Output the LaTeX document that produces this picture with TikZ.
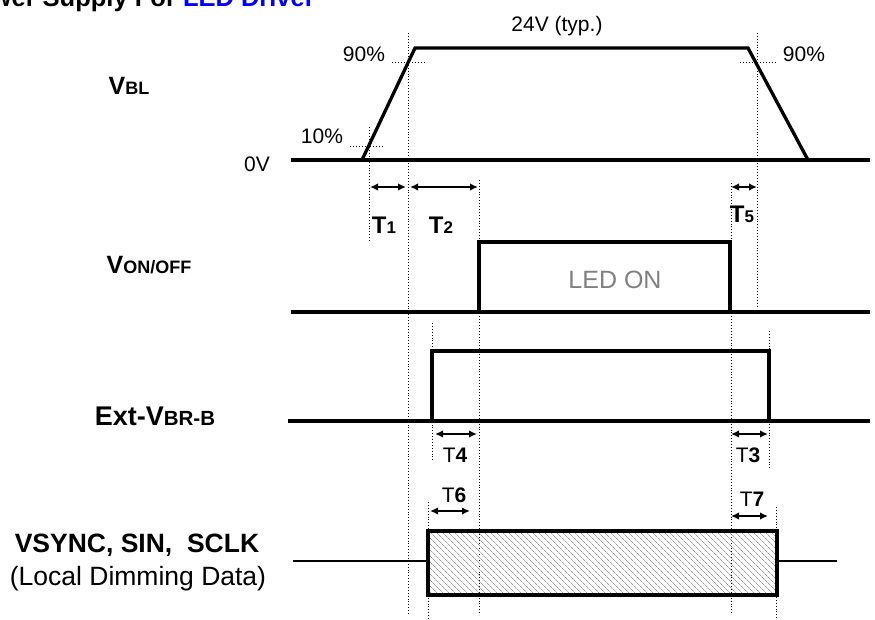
\documentclass[tikz,border=0pt]{standalone}
\usepackage{fontspec}
\setmainfont{Liberation Sans}
\usetikzlibrary{arrows.meta,patterns.meta}
\definecolor{ledblue}{RGB}{0,0,255}
\definecolor{hatchgray}{RGB}{160,160,160}
\definecolor{ledgray}{RGB}{128,128,128}
\newcommand{\sz}[1]{\fontsize{#1}{#1}\selectfont}
\begin{document}
\begin{tikzpicture}[x=1pt,y=-1pt,
  sig/.style={line width=3.3pt, line join=miter, line cap=rect},
  thinsig/.style={line width=2pt},
  guide/.style={line width=0.9pt, dash pattern=on 0.9pt off 2pt},
  dimarrow/.style={line width=1.6pt, {Latex[length=8pt,width=7.5pt]}-{Latex[length=8pt,width=7.5pt]}},
  biglab/.style={font=\sz{25}\bfseries, inner sep=0pt, anchor=base},
  tlab/.style={font=\sz{24}\bfseries, inner sep=0pt, anchor=base},
  tlabr/.style={font=\sz{21}, inner sep=0pt, anchor=base},
  vlab/.style={font=\sz{21}, inner sep=0pt, anchor=base}
]
\useasboundingbox (0,0) rectangle (875,620);
\clip (0,0) rectangle (875,620);

% title (cut off at the top, as in the reference)
\node[font=\sz{25.5}\bfseries, inner sep=0pt, anchor=base east] (title) at (315,7)
  {Power Supply For \textcolor{ledblue}{LED Driver}};

% signal names
\node[biglab] (vbl) at (129,95) {V{\sz{18}BL}};
\node[biglab] (von) at (149,273) {V{\sz{18}ON/OFF}};
\node[biglab, font=\sz{27}\bfseries] (ext) at (155,425) {Ext-V{\sz{20.5}BR-B}};
\node[biglab, font=\sz{26.5}\bfseries] (vsync) at (137,552) {VSYNC, SIN,\ \ SCLK};
\node[font=\sz{26.5}, inner sep=0pt, anchor=base] (ldd) at (138,585) {(Local Dimming Data)};

% level labels
\node[vlab] (p90a) at (364,62) {90\%};
\node[vlab] (p90b) at (804,62) {90\%};
\node[vlab] (p10) at (322,144) {10\%};
\node[vlab] (zero) at (257,172) {0V};
\node[vlab] (typ) at (557,32) {24V (typ.)};
\node[font=\sz{25}, text=ledgray, inner sep=0pt, anchor=base] (ledon) at (615,288) {LED ON};

% guide lines
\draw[guide] (408,33) -- (408,615);
\draw[guide] (369,127) -- (369,243);
\draw[guide] (479,180) -- (479,615);
\draw[guide] (731,183) -- (731,615);
\draw[guide] (757,33) -- (757,308);
\draw[guide] (432,323) -- (432,462);
\draw[guide] (769,331) -- (769,468);
\draw[guide] (428,502) -- (428,620);
\draw[guide] (776,507) -- (776,620);
\draw[guide] (392,62) -- (426,62);
\draw[guide] (740,62) -- (775,62);
\draw[guide] (350,146) -- (384,146);

% VBL waveform
\draw[sig] (293,160) -- (868,160);
\draw[sig, line cap=butt] (362,160) -- (415,48) -- (748,48) -- (808,160);

% VON/OFF waveform
\draw[sig] (293,312) -- (868,312);
\draw[sig, line cap=butt] (479,312) -- (479,242) -- (730,242) -- (730,312);

% Ext-VBR-B waveform
\draw[sig] (290,421) -- (868,421);
\draw[sig, line cap=butt] (432,421) -- (432,351) -- (769,351) -- (769,421);

% data bus
\draw[thinsig] (293,561) -- (428,561);
\draw[thinsig] (777,561) -- (837,561);
\path[pattern={Lines[angle=-45,distance=4pt,line width=0.7pt]}, pattern color=hatchgray]
  (428,531) rectangle (777,595);
\draw[sig, line cap=butt] (428,531) rectangle (777,595);

% timing arrows
\coordinate (a1l) at (370,187); \coordinate (a1r) at (406,187);
\coordinate (a2l) at (410,187); \coordinate (a2r) at (478,187);
\coordinate (a5l) at (731,187); \coordinate (a5r) at (757,187);
\coordinate (a4l) at (435,434); \coordinate (a4r) at (477,434);
\coordinate (a3l) at (731,434); \coordinate (a3r) at (768,434);
\coordinate (a6l) at (430,511); \coordinate (a6r) at (470,511);
\coordinate (a7l) at (731,516); \coordinate (a7r) at (768,516);
\draw[dimarrow] (a1l) -- (a1r);
\draw[dimarrow] (a2l) -- (a2r);
\draw[dimarrow] (a5l) -- (a5r);
\draw[dimarrow] (a4l) -- (a4r);
\draw[dimarrow] (a3l) -- (a3r);
\draw[dimarrow] (a6l) -- (a6r);
\draw[dimarrow] (a7l) -- (a7r);

\node[tlab] (t1) at (384,234) {T{\sz{17}1}};
\node[tlab] (t2) at (441,234) {T{\sz{17}2}};
\node[tlab] (t5) at (742,223) {T{\sz{17}5}};
\node[tlabr] (t4) at (455,462) {T\textbf{4}};
\node[tlabr] (t3) at (748,462) {T\textbf{3}};
\node[tlabr] (t6) at (454,502) {T\textbf{6}};
\node[tlabr] (t7) at (752,506) {T\textbf{7}};
\end{tikzpicture}
\end{document}
